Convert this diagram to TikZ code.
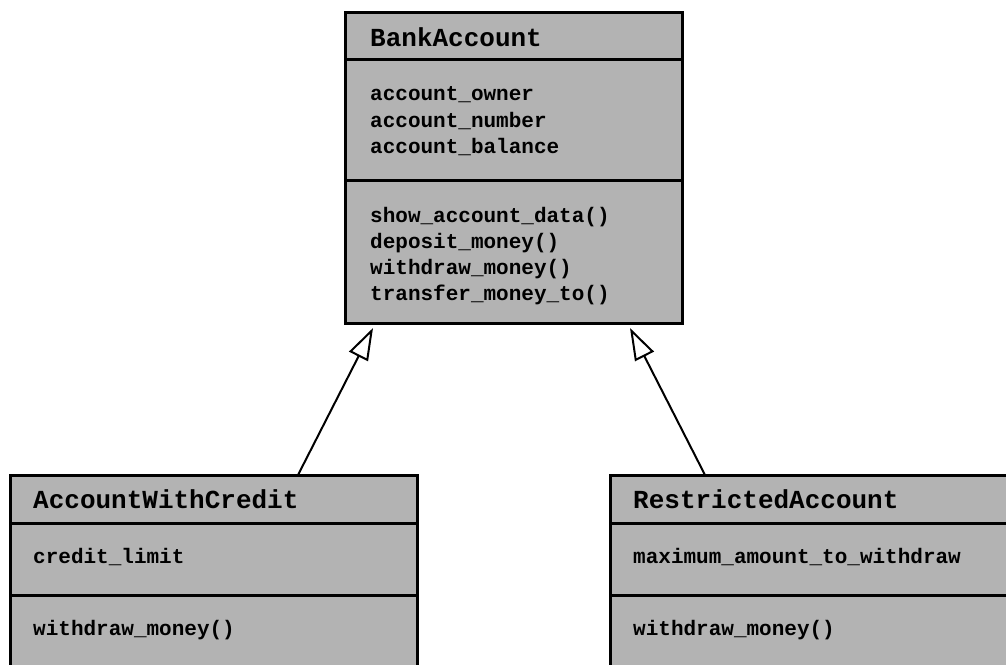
\documentclass[tikz,border=0pt]{standalone}
\usepackage{fontspec}
\setmonofont{Liberation Mono}
\usetikzlibrary{arrows.meta,calc}
\definecolor{boxgray}{RGB}{179,179,179}
\tikzset{
  classbox/.style={draw=black, fill=boxgray, line width=3pt, rectangle, inner sep=0pt, outer sep=0pt},
  sepline/.style={draw=black, line width=3pt},
  titletext/.style={anchor=base west, inner sep=0pt, font=\ttfamily\bfseries\fontsize{26}{26}\selectfont},
  membertext/.style={anchor=base west, inner sep=0pt, font=\ttfamily\bfseries\fontsize{21}{21}\selectfont},
  inherit/.style={draw=black, line width=2pt, -{Triangle[open, length=32pt, width=21pt]}}
}
\begin{document}
\begin{tikzpicture}[x=1pt, y=-1pt]
\clip (0,0) rectangle (1006,664);
\fill[white] (0,0) rectangle (1006,664);
% BankAccount
\node[classbox, minimum width=337pt, minimum height=311pt] (bank) at (513.5,167.5) {};
\draw[sepline] (bank.west |- 0,59) -- (bank.east |- 0,59);
\draw[sepline] (bank.west |- 0,180) -- (bank.east |- 0,180);
\node[titletext] (bankT) at (370,46) {BankAccount};
\node[membertext] (bankA1) at (370,100) {account\_owner};
\node[membertext] (bankA2) at (370,127) {account\_number};
\node[membertext] (bankA3) at (370,153) {account\_balance};
\node[membertext] (bankM1) at (370,222) {show\_account\_data()};
\node[membertext] (bankM2) at (370,248) {deposit\_money()};
\node[membertext] (bankM3) at (370,274) {withdraw\_money()};
\node[membertext] (bankM4) at (370,300) {transfer\_money\_to()};
% AccountWithCredit
\node[classbox, minimum width=407pt, minimum height=225pt] (awc) at (213.5,587.5) {};
\draw[sepline] (awc.west |- 0,523) -- (awc.east |- 0,523);
\draw[sepline] (awc.west |- 0,595) -- (awc.east |- 0,595);
\node[titletext] (awcT) at (33,508) {AccountWithCredit};
\node[membertext] (awcA1) at (33,563) {credit\_limit};
\node[membertext] (awcM1) at (33,635) {withdraw\_money()};
% RestrictedAccount
\node[classbox, minimum width=420pt, minimum height=225pt] (ra) at (820,587.5) {};
\draw[sepline] (ra.west |- 0,523) -- (ra.east |- 0,523);
\draw[sepline] (ra.west |- 0,595) -- (ra.east |- 0,595);
\node[titletext] (raT) at (633,508) {RestrictedAccount};
\node[membertext] (raA1) at (633,563) {maximum\_amount\_to\_withdraw};
\node[membertext] (raM1) at (633,635) {withdraw\_money()};
% inheritance
\coordinate (awcStart) at ($(awc.north west)+(288,0)$);
\coordinate (awcTip) at ($(bank.south west)+(28,5)$);
\coordinate (raStart) at ($(ra.north west)+(95,0)$);
\coordinate (raTip) at ($(bank.south west)+(285,5)$);
\draw[inherit] (awcStart) -- (awcTip);
\draw[inherit] (raStart) -- (raTip);
\end{tikzpicture}
\end{document}
